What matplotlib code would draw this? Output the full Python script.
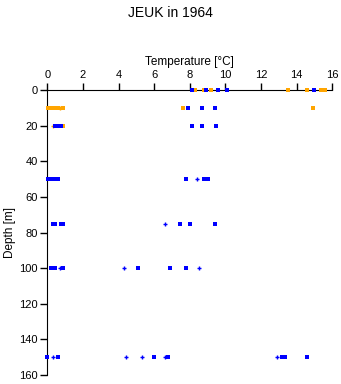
import numpy as np
import matplotlib
matplotlib.use("Agg")
import matplotlib.pyplot as plt

plt.rcParams["font.family"] = ["Liberation Sans", "DejaVu Sans"]

# blue series (squares)
blue_t = [8.1, 8.9, 9.6, 10.1, 15.0,
          7.9, 8.7, 9.4,
          0.45, 0.55, 0.65, 0.75, 8.1, 8.7, 9.5,
          0.05, 0.2, 0.35, 0.5, 0.6, 7.8, 8.8, 9.0,
          0.3, 0.45, 0.75, 0.9, 7.45, 8.0, 9.4,
          0.2, 0.35, 0.45, 0.9, 5.1, 6.9, 7.8,
          0.0, 0.6, 6.0, 6.8, 13.2, 13.35, 14.6]
blue_d = [0, 0, 0, 0, 0,
          10, 10, 10,
          20, 20, 20, 20, 20, 20, 20,
          50, 50, 50, 50, 50, 50, 50, 50,
          75, 75, 75, 75, 75, 75, 75,
          100, 100, 100, 100, 100, 100, 100,
          150, 150, 150, 150, 150, 150, 150]

# blue series (plus)
blue_pt = [8.4, 6.6, 4.3, 8.5, 0.3, 4.4, 5.3, 6.6, 12.9, 0.7]
blue_pd = [50, 75, 100, 100, 150, 150, 150, 150, 150, 100]

# orange series (squares)
orange_t = [8.3, 8.8, 9.2, 13.5, 14.6, 15.4, 15.6,
            0.05, 0.2, 0.35, 0.5, 0.6, 0.9, 7.6, 14.9,
            0.9]
orange_d = [0, 0, 0, 0, 0, 0, 0,
            10, 10, 10, 10, 10, 10, 10, 10,
            20]
orange_pt = [0.3, 0.7]
orange_pd = [20, 10]

blue = "#0000ff"
orange = "#ffa500"

fig = plt.figure(figsize=(3.41, 3.84), dpi=100)
ax = fig.add_axes([0.139, 0.0234, 0.835, 0.7422])

ax.scatter(orange_t, orange_d, marker="s", s=5, color=orange, linewidths=0, clip_on=False, zorder=3)
ax.scatter(orange_pt, orange_pd, marker="+", s=10, color=orange, linewidths=1, clip_on=False, zorder=3)
ax.scatter(blue_t, blue_d, marker="s", s=5, color=blue, linewidths=0, clip_on=False, zorder=4)
ax.scatter(blue_pt, blue_pd, marker="+", s=10, color=blue, linewidths=1, clip_on=False, zorder=4)

ax.set_xlim(0, 16)
ax.set_ylim(160, 0)
ax.set_xticks(np.arange(0, 17, 2))
ax.set_yticks(np.arange(0, 161, 20))
ax.xaxis.tick_top()
ax.xaxis.set_label_position("top")
ax.spines["right"].set_visible(False)
ax.spines["bottom"].set_visible(False)
ax.tick_params(length=5, width=1, labelsize=8, pad=2)
ax.set_xlabel("Temperature [°C]", fontsize=8.5, labelpad=4)
ax.set_ylabel("Depth [m]", fontsize=8.5, labelpad=2)

fig.suptitle("JEUK in 1964", fontsize=10, y=0.985)

fig.savefig("out.png", dpi=100)
